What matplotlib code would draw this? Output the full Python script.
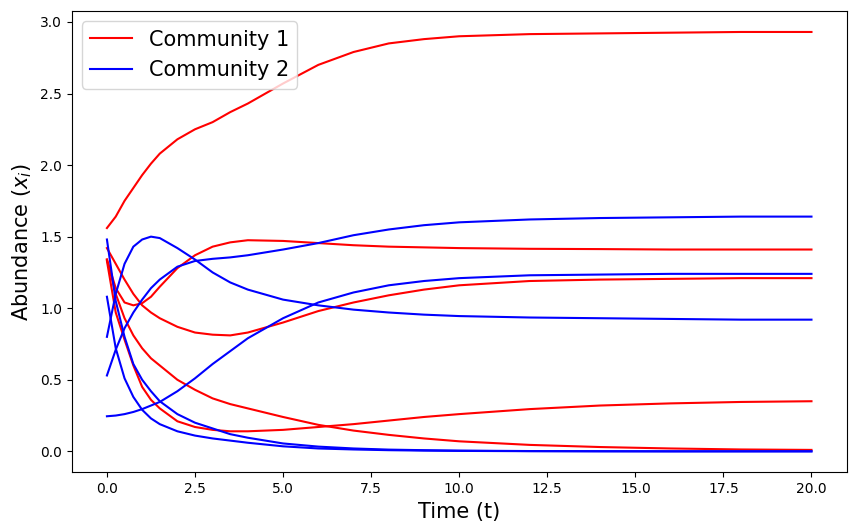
import matplotlib
matplotlib.use('Agg')
import matplotlib.pyplot as plt

# time points
t = [0, 0.25, 0.5, 0.75, 1, 1.25, 1.5, 2, 2.5, 3, 3.5, 4, 5, 6, 7, 8, 9, 10, 12, 14, 16, 18, 20]

# community 1 (red)
red_1 = [1.56, 1.64, 1.75, 1.84, 1.93, 2.01, 2.08, 2.18, 2.25, 2.30, 2.37, 2.43, 2.57, 2.70, 2.79, 2.85, 2.88, 2.90, 2.915, 2.92, 2.925, 2.93, 2.93]
red_2 = [1.34, 1.14, 1.04, 1.02, 1.035, 1.08, 1.15, 1.28, 1.37, 1.43, 1.46, 1.475, 1.47, 1.455, 1.44, 1.43, 1.425, 1.42, 1.415, 1.413, 1.41, 1.41, 1.41]
red_3 = [1.42, 1.31, 1.20, 1.10, 1.02, 0.97, 0.93, 0.87, 0.83, 0.815, 0.81, 0.83, 0.90, 0.98, 1.04, 1.09, 1.13, 1.16, 1.19, 1.20, 1.205, 1.21, 1.21]
red_4 = [1.34, 1.10, 0.93, 0.81, 0.72, 0.65, 0.60, 0.50, 0.43, 0.37, 0.33, 0.30, 0.24, 0.185, 0.145, 0.115, 0.09, 0.07, 0.045, 0.03, 0.02, 0.013, 0.01]
red_5 = [1.33, 0.97, 0.78, 0.60, 0.45, 0.36, 0.30, 0.21, 0.17, 0.15, 0.14, 0.14, 0.15, 0.17, 0.19, 0.215, 0.24, 0.26, 0.295, 0.32, 0.335, 0.345, 0.35]

# community 2 (blue)
blue_1 = [1.48, 1.05, 0.80, 0.61, 0.50, 0.42, 0.35, 0.26, 0.20, 0.16, 0.12, 0.095, 0.055, 0.033, 0.02, 0.012, 0.008, 0.005, 0.002, 0.001, 0.0, 0.0, 0.0]
blue_2 = [1.08, 0.72, 0.51, 0.38, 0.29, 0.23, 0.19, 0.14, 0.11, 0.09, 0.075, 0.06, 0.035, 0.02, 0.013, 0.008, 0.005, 0.003, 0.001, 0.0, 0.0, 0.0, 0.0]
blue_3 = [0.80, 1.10, 1.31, 1.43, 1.48, 1.50, 1.49, 1.42, 1.34, 1.25, 1.18, 1.13, 1.06, 1.02, 0.99, 0.97, 0.955, 0.945, 0.935, 0.93, 0.925, 0.92, 0.92]
blue_4 = [0.53, 0.71, 0.86, 0.97, 1.06, 1.14, 1.20, 1.29, 1.33, 1.345, 1.355, 1.37, 1.41, 1.455, 1.51, 1.55, 1.58, 1.60, 1.62, 1.63, 1.635, 1.64, 1.64]
blue_5 = [0.245, 0.25, 0.26, 0.275, 0.295, 0.32, 0.345, 0.42, 0.51, 0.61, 0.70, 0.79, 0.93, 1.04, 1.11, 1.16, 1.19, 1.21, 1.23, 1.235, 1.24, 1.24, 1.24]

community_1 = [red_1, red_2, red_3, red_4, red_5]
community_2 = [blue_1, blue_2, blue_3, blue_4, blue_5]

fig = plt.figure(figsize=(8.55, 5.31), dpi=100)
ax = fig.add_axes([71.7 / 855, (531 - 472.3) / 531, 775 / 855, 461.3 / 531])

for i, y in enumerate(community_1):
    ax.plot(t, y, color='red', label='Community 1' if i == 0 else None)
for i, y in enumerate(community_2):
    ax.plot(t, y, color='blue', label='Community 2' if i == 0 else None)

ax.set_xlabel('Time (t)', fontsize=15)
ax.set_ylabel('Abundance ($x_i$)', fontsize=15)
ax.legend(loc='upper left', fontsize=15)

fig.savefig('out.png', dpi=100)
